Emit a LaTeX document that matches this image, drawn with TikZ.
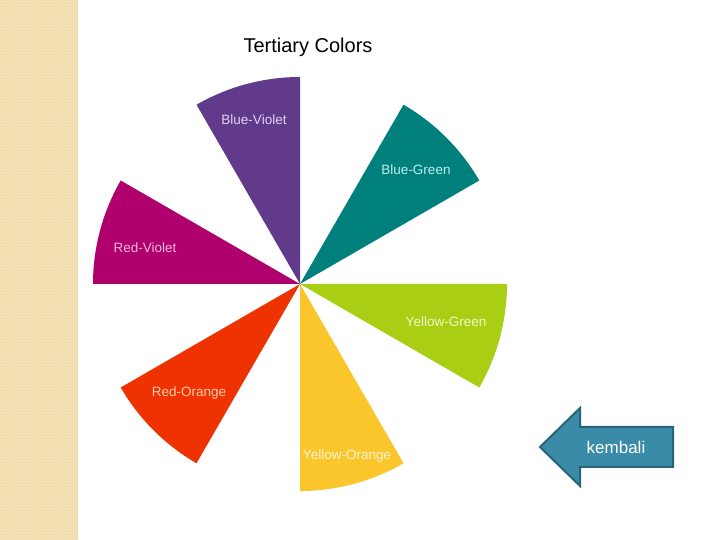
\documentclass[tikz,border=0pt]{standalone}
\usepackage{fontspec}
\setmainfont{Liberation Sans}
\usepackage{tikz}
\usetikzlibrary{patterns}

\definecolor{stripbase}{HTML}{F2DCAC}
\definecolor{stripdots}{HTML}{FAEDD3}
\definecolor{bvcol}{HTML}{623A8C}
\definecolor{bgcol}{HTML}{00807C}
\definecolor{ygcol}{HTML}{A9CE14}
\definecolor{yocol}{HTML}{FAC62C}
\definecolor{rocol}{HTML}{EE3300}
\definecolor{rvcol}{HTML}{B0006E}
\definecolor{bvtext}{HTML}{E2D2F2}
\definecolor{bgtext}{HTML}{BCEEEC}
\definecolor{ygtext}{HTML}{F2FAC4}
\definecolor{yotext}{HTML}{FFF4D2}
\definecolor{rotext}{HTML}{FFCBB0}
\definecolor{rvtext}{HTML}{F2B6DA}
\definecolor{backfill}{HTML}{3A8BA8}
\definecolor{backline}{HTML}{286478}

\tikzset{
	wedgelabel/.style={inner sep=0pt, font=\fontsize{13.5}{16}\selectfont},
	backbutton/.style={fill=backfill, draw=backline, line width=2pt, line join=miter}
}

\begin{document}
\begin{tikzpicture}[x=1pt,y=1pt]
\useasboundingbox (0,0) rectangle (720,540);

% left strip
\fill[stripbase] (0,0) rectangle (78,540);
\fill[pattern=crosshatch dots, pattern color=stripdots] (0,0) rectangle (78,540);

\node[font=\fontsize{20}{24}\selectfont] (title) at (308,493) {Tertiary Colors};

% the wheel
\coordinate (hub) at (300,256);

\fill[bvcol] (hub) -- ++(90:207) arc (90:120:207) -- cycle;
\fill[bgcol] (hub) -- ++(30:207) arc (30:60:207) -- cycle;
\fill[ygcol] (hub) -- ++(-30:207) arc (-30:0:207) -- cycle;
\fill[yocol] (hub) -- ++(-90:207) arc (-90:-60:207) -- cycle;
\fill[rocol] (hub) -- ++(-150:207) arc (-150:-120:207) -- cycle;
\fill[rvcol] (hub) -- ++(150:207) arc (150:180:207) -- cycle;

\node[wedgelabel, text=bvtext] (bluevio) at (254,420) {Blue-Violet};
\node[wedgelabel, text=bgtext] (bluegrn) at (416,370) {Blue-Green};
\node[wedgelabel, text=rvtext] (redvio) at (145,292) {Red-Violet};
\node[wedgelabel, text=ygtext] (yelgrn) at (446,218) {Yellow-Green};
\node[wedgelabel, text=rotext] (redora) at (189,147) {Red-Orange};
\node[wedgelabel, text=yotext] (yelora) at (347,84) {Yellow-Orange};

% back button
\draw[backbutton] (540,93) -- (580,132) -- (580,113) -- (673,113)
	-- (673,73) -- (580,73) -- (580,54) -- cycle;
\node[text=white, font=\fontsize{17}{20}\selectfont] (back) at (616,93) {kembali};

\end{tikzpicture}
\end{document}
